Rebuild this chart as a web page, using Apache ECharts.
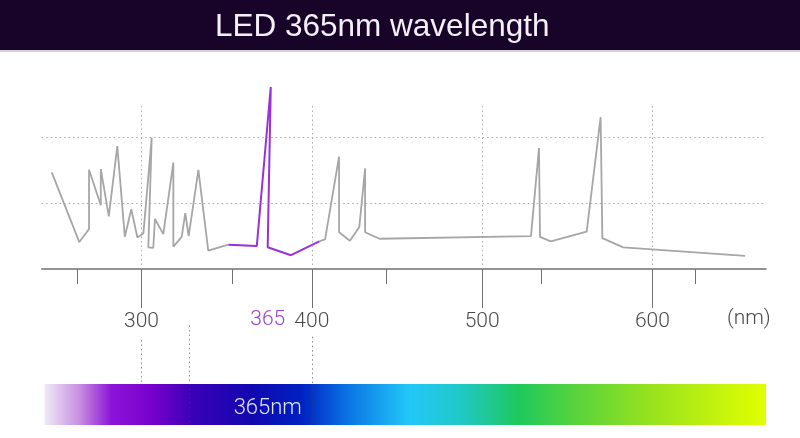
<!DOCTYPE html>
<html>
<head>
<meta charset="utf-8">
<script src="https://cdn.jsdelivr.net/npm/echarts@6/dist/echarts.min.js"></script>
<style>
  html, body { margin: 0; padding: 0; background: #fff; }
  #chart { width: 800px; height: 438px; }
</style>
</head>
<body>
<div id="chart"></div>
<script>
// spectrum (wavelength nm, relative intensity)
const leftWl = [247.3, 263.5, 269.2, 269.2, 276.1, 276.1, 280.8, 285.8, 290.2, 294.0, 297.6, 301.1, 306.0, 304.0, 306.9, 307.9, 312.8, 318.7, 318.7, 323.6, 325.7, 327.7, 333.4, 339.2, 351.0]
const leftVal = [1.47, 0.41, 0.61, 1.51, 0.97, 1.52, 0.80, 1.87, 0.49, 0.91, 0.48, 0.54, 2.00, 0.33, 0.32, 0.76, 0.53, 1.62, 0.34, 0.49, 0.85, 0.50, 1.51, 0.28, 0.37]
const ledWl = [351.0, 367.7, 375.9, 374.1, 387.8, 404.4]
const ledVal = [0.37, 0.35, 2.77, 0.33, 0.21, 0.42]
const rightWl = [404.4, 407.8, 416.0, 416.0, 422.4, 427.9, 431.3, 431.3, 439.7, 528.7, 533.4, 534.0, 540.3, 561.4, 569.6, 570.6, 582.9, 654.4]
const rightVal = [0.42, 0.45, 1.71, 0.56, 0.43, 0.64, 1.53, 0.56, 0.46, 0.50, 1.84, 0.49, 0.42, 0.57, 2.31, 0.47, 0.33, 0.20]

const tickLabels = [300, 400, 500, 600]
const minorTicks = [262.5, 353.1, 443.6, 534.6, 625.4]
const gridLevels = [1, 2]
const peakLabel = "365"
const bandLabel = "365nm"
const unitLabel = "(nm)"
const titleText = "LED 365nm wavelength"

// axis ranges
const xMin = 241.4, xMax = 666.7
const yMax = 2.8
const gridTopVal = 2.48
// lower panel (under the axis): colour band + dotted guides
const lowMin = -2.38
const bandTop = -1.75, bandBottom = -2.374
const guides = [[300, -1.08], [327.9, -0.86], [400, -1.03]]

const chart = echarts.init(document.getElementById("chart"))

let peakIdx = 0
ledVal.forEach((v, i) => { if (v > ledVal[peakIdx]) peakIdx = i })
const peakWl = ledWl[peakIdx]

const pairs = (xs, ys) => xs.map((x, i) => [x, ys[i]])
const font = "Roboto, Liberation Sans, sans-serif"

const gridMarks = [
  ...gridLevels.map(v => ({ yAxis: v })),
  ...tickLabels.map(w => [{ coord: [w, gridTopVal] }, { coord: [w, 0] }])
]
const guideMarks = guides.map(g => [
  { coord: [g[0], g[1]] },
  { coord: [g[0], bandBottom] }
])

const option = {
  animation: false,
  backgroundColor: "#fff",
  title: {
    text: titleText,
    left: 210,
    top: 6,
    textStyle: { color: "#f4f0fa", fontSize: 31.5, fontWeight: "normal", fontFamily: "Liberation Sans, Arial, sans-serif" }
  },
  graphic: [
    { type: "rect", z: 0, shape: { x: 0, y: 0, width: 800, height: 50 }, style: { fill: "#190429" } },
    { type: "rect", z: 0, shape: { x: 0, y: 50, width: 800, height: 2 }, style: { fill: "#d6d2dc" } },
    { type: "text", z: 5, left: 727, top: 308, style: { text: unitLabel, fontSize: 21, fill: "#4a4a4a", fontFamily: font, fontWeight: 300 } }
  ],
  grid: [
    { left: 41.7, right: 34, top: 85, bottom: 169, outerBoundsMode: "none" },
    { left: 41.7, right: 34, top: 269, bottom: 12.7, outerBoundsMode: "none" }
  ],
  xAxis: [
    {
      type: "value",
      gridIndex: 0,
      min: xMin,
      max: xMax,
      position: "bottom",
      axisLine: { onZero: false, lineStyle: { color: "#707070", width: 1.5 } },
      axisTick: { customValues: tickLabels, length: 39, lineStyle: { color: "#707070", width: 1 } },
      axisLabel: { customValues: tickLabels, margin: 42, fontSize: 21, color: "#4a4a4a", fontFamily: font, fontWeight: 300 },
      splitLine: { show: false }
    },
    {
      type: "value",
      gridIndex: 0,
      min: xMin,
      max: xMax,
      position: "bottom",
      axisLine: { show: false, onZero: false },
      axisTick: { customValues: minorTicks, length: 15, lineStyle: { color: "#707070", width: 1 } },
      axisLabel: { show: false },
      splitLine: { show: false }
    },
    { type: "value", gridIndex: 1, min: xMin, max: xMax, show: false }
  ],
  yAxis: [
    { type: "value", gridIndex: 0, min: 0, max: yMax, show: false },
    { type: "value", gridIndex: 1, min: lowMin, max: 0, show: false }
  ],
  series: [
    {
      name: "band",
      type: "line",
      xAxisIndex: 2,
      yAxisIndex: 1,
      data: [],
      z: 1,
      silent: true,
      markArea: {
        silent: true,
        itemStyle: {
          color: new echarts.graphic.LinearGradient(0, 0, 1, 0, [
            { offset: 0, color: "#efeaf7" },
            { offset: 0.048, color: "#c890e0" },
            { offset: 0.093, color: "#8c14d8" },
            { offset: 0.147, color: "#7a00cc" },
            { offset: 0.205, color: "#3a00b8" },
            { offset: 0.288, color: "#1208b0" },
            { offset: 0.355, color: "#0020c0" },
            { offset: 0.417, color: "#0a70e4" },
            { offset: 0.506, color: "#22c8f8" },
            { offset: 0.576, color: "#20c8c8" },
            { offset: 0.657, color: "#1ec85c" },
            { offset: 0.742, color: "#5cd43a" },
            { offset: 0.84, color: "#98e21e" },
            { offset: 1, color: "#e2ff00" }
          ])
        },
        data: [[{ coord: [243, bandTop] }, { coord: [xMax, bandBottom] }]]
      },
      markPoint: {
        silent: true,
        symbol: "circle",
        symbolSize: 1,
        itemStyle: { color: "transparent" },
        data: [{
          coord: [peakWl, (bandTop + bandBottom) / 2],
          label: { show: true, position: "inside", offset: [-3, 4], formatter: bandLabel, fontSize: 22, color: "#dfe6ff", fontFamily: font, fontWeight: 300 }
        }]
      }
    },
    {
      name: "guides",
      type: "line",
      xAxisIndex: 2,
      yAxisIndex: 1,
      data: [],
      z: 3,
      silent: true,
      markLine: {
        silent: true,
        z: 6,
        symbol: ["none", "none"],
        label: { show: false },
        lineStyle: { color: "rgba(60,60,80,0.6)", type: [1.5, 3], width: 1 },
        data: guideMarks
      }
    },
    {
      name: "spectrum",
      type: "line",
      data: pairs(leftWl, leftVal),
      showSymbol: false,
      z: 3,
      lineStyle: { color: "#a6a6a6", width: 1.8 },
      markLine: {
        silent: true,
        symbol: ["none", "none"],
        label: { show: false },
        lineStyle: { color: "#a9a9a9", type: [1.5, 3], width: 1 },
        data: gridMarks
      }
    },
    {
      name: "spectrum2",
      type: "line",
      data: pairs(rightWl, rightVal),
      showSymbol: false,
      z: 3,
      lineStyle: { color: "#a6a6a6", width: 1.8 }
    },
    {
      name: "led",
      type: "line",
      data: pairs(ledWl, ledVal),
      showSymbol: false,
      z: 4,
      lineStyle: { color: "#9a30dc", width: 2 },
      markPoint: {
        silent: true,
        symbol: "circle",
        symbolSize: 1,
        itemStyle: { color: "transparent" },
        data: [{
          coord: [peakWl, 0],
          label: { show: true, position: "inside", offset: [-3, 51], formatter: peakLabel, fontSize: 21, color: "#9a40d8", fontFamily: font, fontWeight: 300 }
        }]
      }
    }
  ]
}

chart.setOption(option)
window.addEventListener("resize", () => chart.resize())
</script>
</body>
</html>
